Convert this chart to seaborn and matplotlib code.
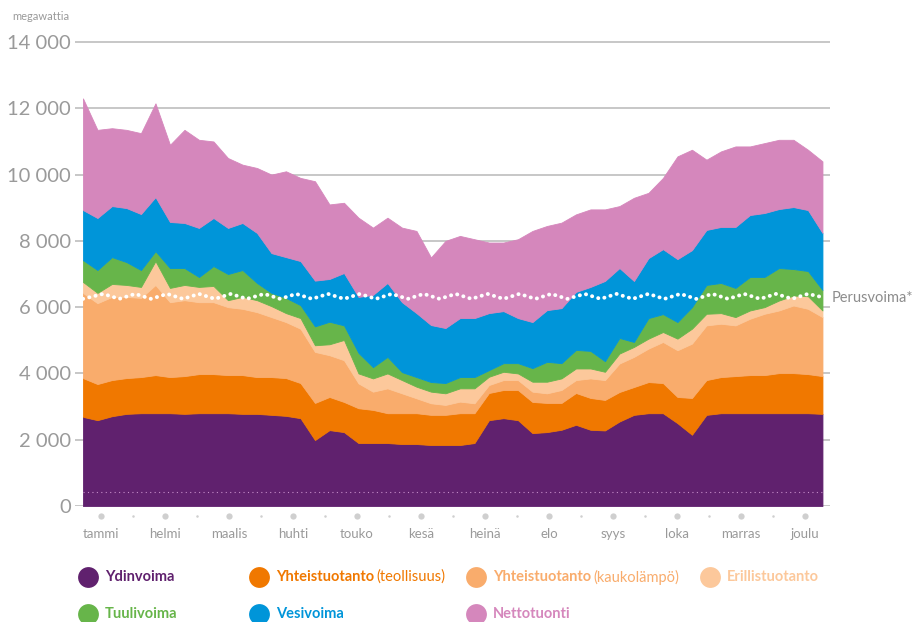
import matplotlib
matplotlib.use("Agg")
import matplotlib.pyplot as plt
from matplotlib.lines import Line2D
import seaborn as sns
import pandas as pd

# Viikot 1-52, megawattia (luettu kuvasta)
viikot = list(range(1, 53))

ydinvoima = [2690, 2590, 2710, 2780, 2800, 2800, 2800, 2780, 2800, 2800,
             2800, 2780, 2780, 2750, 2720, 2650, 1990, 2290, 2230, 1900,
             1900, 1900, 1870, 1870, 1840, 1840, 1840, 1900, 2590, 2650,
             2590, 2200, 2230, 2300, 2450, 2300, 2280, 2550, 2750, 2800,
             2800, 2500, 2150, 2750, 2800, 2800, 2800, 2800, 2800, 2800,
             2800, 2780]
teollisuus = [1170, 1090, 1090, 1080, 1090, 1150, 1090, 1140, 1180, 1180,
              1150, 1170, 1110, 1140, 1140, 1060, 1120, 1000, 910, 1050,
              1000, 900, 930, 930, 910, 910, 960, 900, 820, 850,
              910, 940, 880, 810, 960, 960, 920, 890, 840, 940,
              910, 790, 1110, 1050, 1090, 1120, 1150, 1150, 1210, 1210,
              1180, 1140]
kaukolampo = [2570, 2440, 2510, 2450, 2390, 2720, 2260, 2290, 2170, 2170,
              2050, 2000, 1960, 1810, 1690, 1640, 1540, 1260, 1260, 750,
              550, 750, 600, 450, 350, 300, 350, 300, 240, 300,
              300, 310, 290, 390, 390, 590, 600, 860, 910, 1010,
              1240, 1410, 1640, 1650, 1610, 1530, 1700, 1850, 1890, 2040,
              1970, 1780]
erillis = [330, 310, 390, 360, 330, 720, 430, 460, 460, 490,
           210, 360, 360, 330, 270, 320, 200, 330, 610, 300,
           400, 450, 400, 350, 350, 350, 400, 450, 250, 250,
           200, 300, 350, 350, 350, 300, 250, 300, 300, 300,
           300, 350, 450, 350, 320, 250, 250, 200, 300, 300,
           380, 200]
tuuli = [660, 690, 810, 690, 510, 300, 600, 510, 300, 600,
         790, 810, 520, 400, 460, 390, 570, 680, 440, 620,
         340, 500, 240, 290, 290, 310, 340, 340, 200, 260,
         310, 410, 600, 460, 560, 530, 320, 470, 150, 620,
         540, 500, 650, 870, 910, 880, 1010, 910, 980, 800,
         760, 620]
vesi = [1510, 1570, 1540, 1630, 1690, 1630, 1390, 1360, 1480, 1450,
        1390, 1420, 1510, 1200, 1230, 1330, 1380, 1290, 1580, 1690,
        2180, 2230, 2110, 1930, 1720, 1660, 1780, 1780, 1720, 1570,
        1360, 1390, 1560, 1660, 1750, 1930, 2420, 2110, 1840, 1810,
        1960, 1900, 1720, 1660, 1690, 1840, 1870, 1930, 1780, 1870,
        1840, 1720]
netto = [3370, 2660, 2350, 2360, 2440, 2830, 2330, 2810, 2660, 2310,
         2110, 1760, 1960, 2370, 2590, 2510, 3000, 2250, 2120, 2390,
         2030, 1970, 2250, 2480, 2040, 2630, 2480, 2380, 2130, 2070,
         2380, 2750, 2540, 2580, 2340, 2340, 2160, 1870, 2510, 1970,
         2150, 3100, 3030, 2120, 2280, 2430, 2070, 2110, 2090, 2030,
         1820, 2160]

# Perusvoima (aaltoileva pisteviiva), huiput ja pohjat
perus_vk = [1.0, 2.4, 3.5, 4.6, 5.7, 6.8, 7.9, 9.0, 10.1, 11.2, 12.3, 13.5,
            14.6, 15.7, 16.8, 17.9, 19.0, 20.1, 21.2, 22.3, 23.4, 24.5,
            25.6, 26.7, 27.8, 28.9, 30.0, 31.1, 32.2, 33.3, 34.4, 35.6,
            36.7, 37.8, 38.9, 40.0, 41.1, 42.2, 43.3, 44.4, 45.5, 46.6,
            47.7, 48.8, 49.9, 51.0, 52.0]
perus_mw = [6250, 6400, 6250, 6400, 6250, 6400, 6250, 6400, 6250, 6400, 6250, 6400,
            6250, 6400, 6250, 6400, 6250, 6400, 6250, 6400, 6250, 6400,
            6250, 6400, 6250, 6400, 6250, 6400, 6250, 6400, 6250, 6400,
            6250, 6400, 6250, 6400, 6250, 6400, 6250, 6400, 6250, 6400,
            6250, 6400, 6250, 6400, 6300]
alaraja_mw = [430] * 52

kuukaudet = ["tammi", "helmi", "maalis", "huhti", "touko", "kesä",
             "heinä", "elo", "syys", "loka", "marras", "joulu"]
kuukausi_vk = [2.24, 6.66, 11.07, 15.48, 19.9, 24.31, 28.72, 33.14,
               37.55, 41.97, 46.38, 50.79]
puolivali_vk = [4.45, 8.86, 13.28, 17.69, 22.1, 26.52, 30.93, 35.34,
                39.76, 44.17, 48.59]

varit = ["#60216e", "#f07800", "#f9ac6c", "#fcc89b", "#67b54a", "#0095d9", "#d587bc"]
selite = ["Ydinvoima", "Yhteistuotanto", "Yhteistuotanto", "Erillistuotanto",
          "Tuulivoima", "Vesivoima", "Nettotuonti"]
selite_lisa = ["", "(teollisuus)", "(kaukolämpö)", "", "", "", ""]

sns.set_theme(style="white")
plt.rcParams['font.family'] = ['Lato', 'DejaVu Sans']

W, H = 921, 622
fig = plt.figure(figsize=(W / 100, H / 100), dpi=100)
ax = fig.add_axes([75 / W, (H - 506) / H, (830 - 75) / W, (506 - 35.4) / H])

sarjat = [ydinvoima, teollisuus, kaukolampo, erillis, tuuli, vesi, netto]
polys = ax.stackplot(viikot, *sarjat, colors=varit, zorder=2)
for p, c in zip(polys, varit):
    p.set_edgecolor(c)
    p.set_linewidth(0.6)

df_perus = pd.DataFrame({"vk": perus_vk, "mw": perus_mw})
sns.lineplot(data=df_perus, x="vk", y="mw", ax=ax, color="white", lw=2.8,
             linestyle=(0, (0.05, 1.6)), dash_capstyle="round", zorder=4)
sns.lineplot(x=viikot, y=alaraja_mw, ax=ax, color="#c58dc9", lw=0.8,
             linestyle=(0, (1, 3)), zorder=3)

ax.set_xlim(0.45, 52.52)
ax.set_ylim(0, 14200)
ax.set_yticks(range(0, 14001, 2000))
ax.set_yticklabels(["0", "2 000", "4 000", "6 000", "8 000", "10 000", "12 000", "14 000"],
                   fontsize=14.5, color="#9a9a9a")
ax.grid(axis="y", color="#b8b8b8", lw=1.1)
ax.set_axisbelow(True)
for s in ax.spines.values():
    s.set_visible(False)
ax.tick_params(axis="y", length=0, pad=3)
ax.tick_params(axis="x", length=0, pad=16)
ax.set_xticks(kuukausi_vk)
ax.set_xticklabels(kuukaudet, fontsize=9.5, color="#9a9a9a")
ax.set_xlabel("")
ax.set_ylabel("")

ax.plot(kuukausi_vk, [-300] * 12, "o", ms=4.5, color="#cfcfcf", clip_on=False, mec="none")
ax.plot(puolivali_vk, [-300] * 11, "o", ms=1.8, color="#cfcfcf", clip_on=False, mec="none")

fig.text(12 / W, 1 - 16 / H, "megawattia", fontsize=8, color="#9a9a9a", va="center")
fig.text(832 / W, 1 - 298 / H, "Perusvoima*", fontsize=10.5, color="#8c8c8c", va="center")

# Selite
sijainnit = [(88, 577), (259, 577), (476, 577), (710, 577), (88, 614), (259, 614), (476, 614)]
renderer = fig.canvas.get_renderer()
for nimi, lisa, vari, (px, py) in zip(selite, selite_lisa, varit, sijainnit):
    fy = 1 - py / H
    fig.add_artist(Line2D([px / W], [fy], marker="o", ms=15, color=vari, mec="none",
                          transform=fig.transFigure))
    t = fig.text((px + 17) / W, fy, nimi, fontsize=10.5, color=vari, fontweight="bold",
                 va="center")
    if lisa:
        bb = t.get_window_extent(renderer)
        fig.text((bb.x1 + 2) / W, fy, lisa, fontsize=10.5, color=vari, va="center")

fig.savefig("out.png", dpi=100)
